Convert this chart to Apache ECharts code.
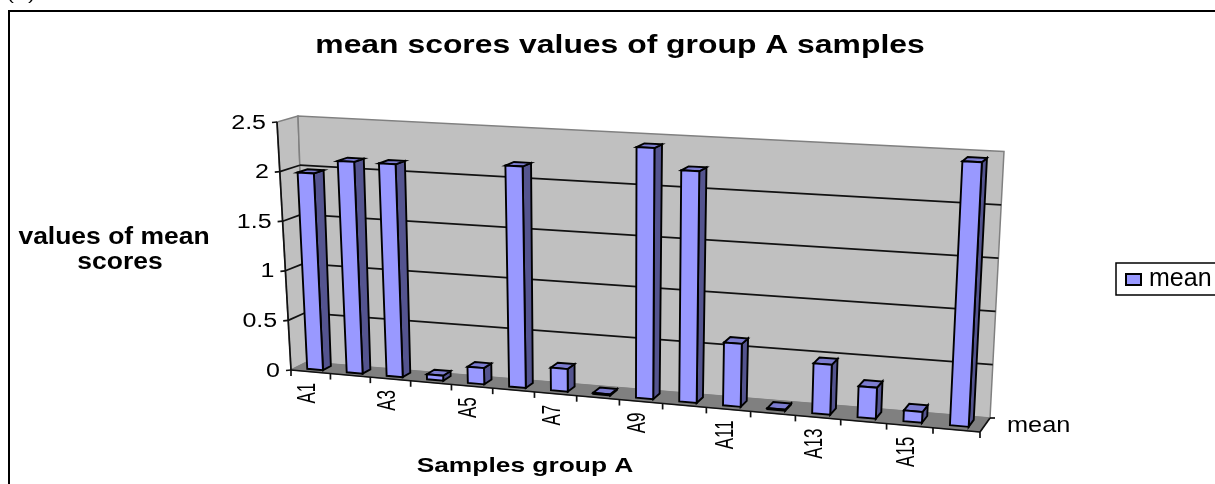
<!DOCTYPE html>
<html><head><meta charset="utf-8">
<style>html,body{margin:0;padding:0;background:#fff}#c{width:1215px;height:484px}</style>
<script src="https://cdn.jsdelivr.net/npm/echarts@6/dist/echarts.min.js"></script>
</head><body><div id="c"></div>
<script>
const categories = ['A1','A2','A3','A4','A5','A6','A7','A8','A9','A10','A11','A12','A13','A14','A15','A16'];
const meanValues = [1.98,2.12,2.12,0.05,0.16,2.17,0.22,0.01,2.42,2.22,0.6,0.01,0.47,0.29,0.1,2.45];
const yTicks = [0,0.5,1,1.5,2,2.5];
const labelledCategories = ['A1','A3','A5','A7','A9','A11','A13','A15'];
const seriesName = 'mean';
const chartTitle = 'mean scores values of group A samples';
const xAxisTitle = 'Samples group A';
const yAxisTitle = ['values of mean','scores'];

// picture geometry of the tilted 3-D box (front plane and back plane corners)
const G = {left:291, right:235, top:122, bottom:114};
const front = {bl:[291,370], br:[980,432], tl:[277,122], tr:[994,160]};
const back  = {bl:[307,362], br:[990,418], tl:[298,116], tr:[1004,151.5]};
const K = 1.098;
const W = 1215 - G.left - G.right, H = 484 - G.top - G.bottom;
const lerp=(a,b,t)=>[a[0]+(b[0]-a[0])*t, a[1]+(b[1]-a[1])*t];
function quad(q,u,v){
  const t = u/(u+K*(1-u));
  return lerp(lerp(q.bl,q.br,t), lerp(q.tl,q.tr,t), v);
}
// flat grid pixel + depth -> picture pixel
function proj(p,d){
  const u=(p[0]-G.left)/W, v=(G.top+H-p[1])/H;
  return lerp(quad(front,u,v),quad(back,u,v),d);
}
const poly=(pts,fill,stroke,lw)=>({type:'polygon',shape:{points:pts},style:{fill:fill,stroke:stroke||null,lineWidth:lw||0}});
const line=(a,b,c,lw)=>({type:'line',shape:{x1:a[0],y1:a[1],x2:b[0],y2:b[1]},style:{stroke:c,lineWidth:lw||1.5}});
const FONT='"Liberation Sans", Arial, sans-serif';
const D0=0.28, D1=0.78, BAR=0.40;

function renderBox(params,api){
  const y0=api.coord([0,0])[1], yT=api.coord([0,2.5])[1];
  const L=G.left,R=G.left+W;
  const c=[];
  const P=(x,y,d)=>proj([x,y],d);
  c.push(poly([P(L,y0,0),P(L,yT,0),P(L,yT,1),P(L,y0,1)],'#C0C0C0','#808080',1.5));
  c.push(poly([P(L,y0,1),P(L,yT,1),P(R,yT,1),P(R,y0,1)],'#C0C0C0','#808080',1.5));
  c.push(poly([P(L,y0,0),P(L,y0,1),P(R,y0,1),P(R,y0,0)],'#808080','#808080',1));
  yTicks.forEach(t=>{
    const y=api.coord([0,t])[1];
    if(t>0&&t<2.5){
      c.push(line(P(L,y,0),P(L,y,1),'#111',1.7));
      c.push(line(P(L,y,1),P(R,y,1),'#111',1.7));
    }
    const a=P(L,y,0);
    c.push(line(a,[a[0]-5,a[1]+0.5],'#111',1.7));
    c.push({type:'text',x:a[0]-11,y:a[1]+1,scaleX:1.25,style:{text:String(t),font:'20px '+FONT,fill:'#000',align:'right',verticalAlign:'middle'}});
  });
  c.push(line(P(L,y0,0),P(L,yT,0),'#111',1.7));
  c.push(line(P(L,y0,0),P(R,y0,0),'#111',1.7));
  c.push(line(P(R,y0,0),P(R,y0,1),'#111',1.7));
  const bw=api.size([1,0])[0];
  for(let i=0;i<=categories.length;i++){
    const a=P(L+i*bw,y0,0);
    c.push(line(a,[a[0],a[1]+6],'#111',1.7));
  }
  labelledCategories.forEach(n=>{
    const x=api.coord([n,0])[0];
    const a=P(x,y0,0);
    c.push({type:'text',x:a[0]-3,y:a[1]+11,rotation:Math.PI/2,scaleY:1.55,style:{text:n,font:'17px '+FONT,fill:'#000',align:'right',verticalAlign:'middle'}});
  });
  const m=P(R,y0,1);
  c.push(line(m,[m[0]+5,m[1]],'#111',1.7));
  c.push({type:'text',x:P(R,y0,0.5)[0]+22,y:P(R,y0,0.5)[1]+1,scaleX:1.15,style:{text:seriesName,font:'22px '+FONT,fill:'#000',align:'left',verticalAlign:'middle'}});
  return {type:'group',silent:true,children:c};
}
function renderBar(params,api){
  const top=api.coord([api.value(0),api.value(1)]), base=api.coord([api.value(0),0]);
  const bw=api.size([1,0])[0]*BAR/2;
  const xa=top[0]-bw,xb=top[0]+bw;
  const P=(x,y,d)=>proj([x,y],d);
  const S='#000',LW=1.9;
  return {type:'group',children:[
    poly([P(xb,base[1],D0),P(xb,top[1],D0),P(xb,top[1],D1),P(xb,base[1],D1)],'#54548F',S,LW),
    poly([P(xa,top[1],D0),P(xa,top[1],D1),P(xb,top[1],D1),P(xb,top[1],D0)],'#7C7CD0',S,LW),
    poly([P(xa,base[1],D0),P(xa,top[1],D0),P(xb,top[1],D0),P(xb,base[1],D0)],'#9999FF',S,LW)
  ]};
}
const boldText=(t,cx,cy,size,sx)=>({type:'text',x:cx,y:cy,scaleX:sx,silent:true,
  style:{text:t,font:'bold '+size+'px '+FONT,fill:'#000',align:'center',verticalAlign:'middle'}});
const chart=echarts.init(document.getElementById('c'),null,{renderer:'canvas'});
chart.setOption({
  animation:false,
  backgroundColor:'#fff',
  legend:{data:[seriesName],left:1116,top:263,padding:[4,10,3,9],itemWidth:15,itemHeight:11,itemGap:0,
    borderColor:'#000',borderWidth:1.5,icon:'rect',
    textStyle:{fontFamily:FONT,fontSize:25,color:'#000',padding:[0,0,0,3]}},
  grid:{left:G.left,right:G.right,top:G.top,bottom:G.bottom},
  xAxis:{type:'category',data:categories,axisLine:{show:false},axisTick:{show:false},axisLabel:{show:false},splitLine:{show:false}},
  yAxis:{type:'value',min:0,max:2.5,interval:0.5,axisLine:{show:false},axisTick:{show:false},axisLabel:{show:false},splitLine:{show:false}},
  graphic:[
    boldText(chartTitle,620,46,26,1.226),
    boldText(xAxisTitle,525,466,21,1.255),
    boldText(yAxisTitle[0],114,238,23,1.15),
    boldText(yAxisTitle[1],120,263,23,1.15),
    {type:'text',x:7,y:-12,scaleX:1.4,style:{text:'(A)',font:'15px '+FONT,fill:'#000'}},
    {type:'rect',shape:{x:9,y:11,width:1300,height:600},style:{fill:'none',stroke:'#000',lineWidth:2},z:100,silent:true}
  ],
  series:[
    {name:'box',type:'custom',coordinateSystem:'cartesian2d',renderItem:renderBox,data:[[0,0]],z:1,silent:true},
    {name:seriesName,type:'custom',coordinateSystem:'cartesian2d',renderItem:renderBar,z:2,
      itemStyle:{color:'#9999FF',borderColor:'#000',borderWidth:1.5},
      encode:{x:0,y:1},
      data:meanValues.map((v,i)=>[i,v])}
  ]
});
</script></body></html>
